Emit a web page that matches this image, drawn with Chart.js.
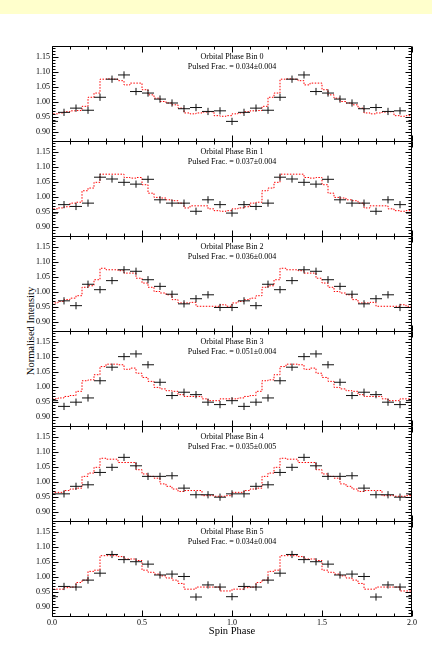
<!DOCTYPE html>
<html><head><meta charset="utf-8">
<script src="https://cdn.jsdelivr.net/npm/chart.js@4.4.1/dist/chart.umd.min.js"></script>
<style>
html,body{margin:0;padding:0;background:#fff;width:432px;height:659px;overflow:hidden;position:relative;font-family:"Liberation Serif","Times New Roman",serif;}
#band{position:absolute;left:0;top:0;width:432px;height:14px;background:#ffffcc;}
canvas{position:absolute;left:0;}
.ann{position:absolute;width:200px;left:132px;text-align:center;font-size:8px;line-height:10px;color:#000;white-space:nowrap;}
#ylab{position:absolute;left:-29px;top:325px;width:120px;height:12px;line-height:12px;text-align:center;font-size:10.5px;color:#000;transform:rotate(-90deg);transform-origin:60px 6px;white-space:nowrap;}
</style></head>
<body>
<div id="band"></div>
<div id="ylab">Normalised Intensity</div>
<script>
// ---- data ----
const spinPhaseTicks = [0.0, 0.5, 1.0, 1.5, 2.0];
const intensityTicks = [0.90, 0.95, 1.00, 1.05, 1.10, 1.15];
const orbitalBins = [0, 1, 2, 3, 4, 5];
const pulsedFrac = ['0.034\u00b10.004', '0.037\u00b10.004', '0.036\u00b10.004', '0.051\u00b10.004', '0.035\u00b10.005', '0.034\u00b10.004'];
// observed intensity at spin phase i/15 (i = 0..14), one cycle
const obsBin0 = [0.935, 0.965, 0.979, 0.972, 1.015, 1.075, 1.089, 1.034, 1.029, 1.009, 0.996, 0.977, 0.981, 0.968, 0.970];
const obsBin1 = [0.946, 0.974, 0.968, 0.979, 1.065, 1.059, 1.048, 1.042, 1.058, 0.990, 0.979, 0.979, 0.952, 0.990, 0.974];
const obsBin2 = [0.948, 0.970, 0.954, 1.025, 1.007, 1.037, 1.073, 1.068, 1.040, 1.018, 0.992, 0.960, 0.977, 0.990, 0.948];
const obsBin3 = [0.954, 0.935, 0.949, 0.963, 1.020, 1.065, 1.100, 1.109, 1.073, 1.015, 0.971, 0.982, 0.974, 0.949, 0.941];
const obsBin4 = [0.960, 0.960, 0.985, 0.990, 1.031, 1.048, 1.081, 1.053, 1.018, 1.018, 1.020, 0.979, 0.957, 0.957, 0.949];
const obsBin5 = [0.934, 0.968, 0.966, 0.989, 1.012, 1.074, 1.057, 1.050, 1.042, 1.006, 1.009, 1.001, 0.933, 0.973, 0.966];
// model (red dotted histogram), steps of 1/30 in phase, one cycle
const modelBin0 = [0.954,0.960,0.963,0.967,0.970,0.971,0.985,1.015,1.029,1.075,1.076,1.075,1.070,1.056,1.062,1.062,1.040,1.023,1.012,1.001,0.996,0.990,0.979,0.963,0.960,0.963,0.966,0.967,0.954,0.952];
const modelBin1 = [0.954,0.960,0.963,0.967,0.979,0.982,1.020,1.029,1.048,1.075,1.075,1.075,1.075,1.064,1.062,1.064,1.040,1.012,0.998,0.996,0.990,0.987,0.979,0.963,0.970,0.970,0.970,0.960,0.954,0.952];
const modelBin2 = [0.952,0.963,0.968,0.974,0.979,0.987,1.015,1.020,1.040,1.078,1.073,1.073,1.070,1.062,1.062,1.045,1.029,1.015,1.001,0.996,0.990,0.974,0.963,0.963,0.965,0.952,0.952,0.952,0.952,0.957];
const modelBin3 = [0.960,0.960,0.963,0.968,0.971,0.985,1.020,1.023,1.040,1.067,1.075,1.075,1.073,1.058,1.062,1.045,1.031,1.018,0.998,0.993,0.987,0.985,0.974,0.968,0.968,0.968,0.960,0.954,0.954,0.960];
const modelBin4 = [0.954,0.965,0.965,0.971,0.976,0.979,1.018,1.029,1.048,1.078,1.075,1.075,1.064,1.064,1.064,1.040,1.026,1.018,1.012,0.993,0.985,0.976,0.968,0.971,0.971,0.971,0.954,0.954,0.952,0.952];
const modelBin5 = [0.953,0.959,0.959,0.964,0.966,0.981,0.989,1.018,1.022,1.070,1.070,1.070,1.067,1.059,1.059,1.054,1.022,1.015,1.009,1.003,0.996,0.989,0.978,0.959,0.959,0.966,0.966,0.966,0.966,0.953];

const obsAll = [obsBin0, obsBin1, obsBin2, obsBin3, obsBin4, obsBin5];
const modelAll = [modelBin0, modelBin1, modelBin2, modelBin3, modelBin4, modelBin5];

const X_ERR = 1 / 30;    // half bin width
const Y_ERR = 0.012;     // error bar half height
const PANEL_TOP = 46, PANEL_H = 95, PAD = 12, XAXIS_H = 26;

function crossSegments(vals) {
  const h = [], v = [];
  for (let idx = 0; idx <= 30; idx++) {
    const x = idx / 15, y = vals[idx % 15];
    h.push({x: x - X_ERR, y}, {x: x + X_ERR, y}, {x, y: null});
    v.push({x, y: y - Y_ERR}, {x, y: y + Y_ERR}, {x, y: null});
  }
  return {h, v};
}
function modelSteps(m) {
  const pts = [];
  for (let k = 0; k < 60; k++) pts.push({x: k / 30, y: m[k % 30]});
  pts.push({x: 2.0, y: m[0]});
  return pts;
}

const framePlugin = {
  id: 'frame',
  afterDatasetsDraw(chart) {
    const {ctx, chartArea: a, scales: {x, y}} = chart;
    ctx.save();
    ctx.strokeStyle = '#000';
    ctx.lineWidth = 1;
    ctx.beginPath();
    const L = a.left + 0.5, R = a.right - 0.5, T = a.top + 0.5, B = a.bottom + 0.5;
    ctx.moveTo(L, T); ctx.lineTo(R, T); ctx.lineTo(R, B); ctx.lineTo(L, B); ctx.closePath();
    for (let k = 0; k <= 20; k++) {
      const px = Math.round(x.getPixelForValue(k / 10)) + 0.5;
      const len = (k % 5 === 0) ? 6 : 3;
      ctx.moveTo(px, B); ctx.lineTo(px, B - len);
      ctx.moveTo(px, T); ctx.lineTo(px, T + len);
    }
    for (let k = 87; k <= 118; k++) {
      const py = Math.round(y.getPixelForValue(k / 100)) + 0.5;
      const len = (k % 5 === 0) ? 6 : 3;
      ctx.moveTo(L, py); ctx.lineTo(L + len, py);
      ctx.moveTo(R, py); ctx.lineTo(R - len, py);
    }
    ctx.stroke();
    ctx.restore();
  }
};

const serif = '"Liberation Serif", "Times New Roman", serif';

orbitalBins.forEach((bin, p) => {
  const last = p === orbitalBins.length - 1;
  const cv = document.createElement('canvas');
  const h = last ? PAD + PANEL_H + XAXIS_H : PAD + PANEL_H + PAD;
  cv.width = 432; cv.height = h;
  cv.style.top = (PANEL_TOP + PANEL_H * p - PAD) + 'px';
  cv.style.width = '432px'; cv.style.height = h + 'px';
  document.body.appendChild(cv);

  const segs = crossSegments(obsAll[p]);
  new Chart(cv.getContext('2d'), {
    type: 'line',
    data: {
      datasets: [
        {data: segs.h, borderColor: '#111', borderWidth: 1, pointRadius: 0, spanGaps: false, clip: 0, tension: 0},
        {data: segs.v, borderColor: '#111', borderWidth: 1, pointRadius: 0, spanGaps: false, clip: 0, tension: 0},
        {data: modelSteps(modelAll[p]), borderColor: '#ff0000', borderWidth: 1, borderDash: [1.5, 1.5], stepped: 'after', pointRadius: 0, clip: 0}
      ]
    },
    options: {
      responsive: false, animation: false, devicePixelRatio: 1,
      layout: {padding: {left: 0, right: 20, top: PAD, bottom: last ? 0 : PAD}},
      plugins: {legend: {display: false}, tooltip: {enabled: false}},
      scales: {
        x: {
          type: 'linear', min: 0, max: 2, display: last,
          afterBuildTicks: s => { s.ticks = spinPhaseTicks.map(v => ({value: v})); },
          afterFit: s => { s.height = last ? XAXIS_H : 0; },
          grid: {display: false, drawTicks: false}, border: {display: false},
          ticks: {color: '#000', padding: 2, font: {family: serif, size: 8}, callback: v => Number(v).toFixed(1), maxRotation: 0, autoSkip: false},
          title: {display: true, text: 'Spin Phase', color: '#000', font: {family: serif, size: 10.5}, padding: {top: 0, bottom: 4}}
        },
        y: {
          type: 'linear', min: 0.87, max: 1.185,
          afterBuildTicks: s => { s.ticks = intensityTicks.map(v => ({value: v})); },
          afterFit: s => { s.width = 52; },
          grid: {display: false, drawTicks: false}, border: {display: false},
          ticks: {color: '#000', padding: 2, font: {family: serif, size: 8}, callback: v => Number(v).toFixed(2), autoSkip: false}
        }
      }
    },
    plugins: [framePlugin]
  });

  const a1 = document.createElement('div');
  a1.className = 'ann';
  a1.style.top = (PANEL_TOP + PANEL_H * p + 6) + 'px';
  a1.textContent = 'Orbital Phase Bin ' + bin;
  document.body.appendChild(a1);
  const a2 = document.createElement('div');
  a2.className = 'ann';
  a2.style.top = (PANEL_TOP + PANEL_H * p + 16) + 'px';
  a2.textContent = 'Pulsed Frac. = ' + pulsedFrac[p];
  document.body.appendChild(a2);
});
</script>
</body></html>
